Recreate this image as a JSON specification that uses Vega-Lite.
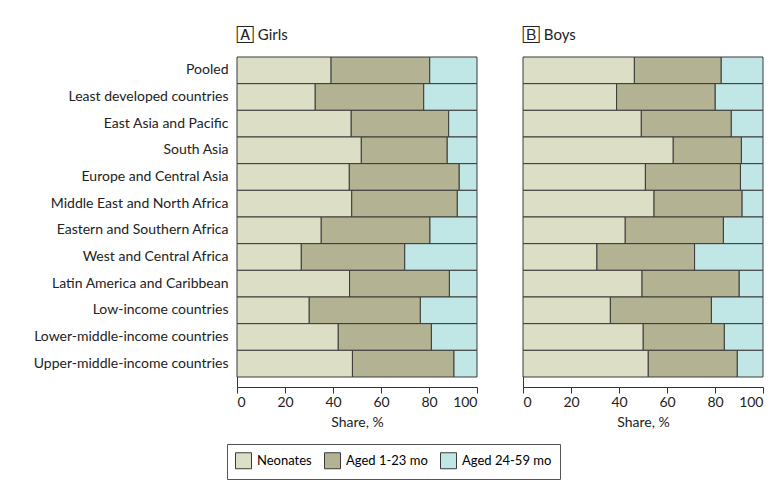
{
  "$schema": "https://vega.github.io/schema/vega-lite/v6.json",
  "padding": {"left": 33, "top": 27, "right": 10, "bottom": 10},
  "background": "white",
  "config": {
    "font": "Lato",
    "view": {"stroke": null},
    "axis": {"domainColor": "#333", "tickColor": "#333", "labelColor": "#222", "titleColor": "#222", "labelFontSize": 14, "titleFontSize": 14, "titleFontWeight": "normal", "grid": false, "labelLimit": 400},
    "title": {"fontWeight": "normal", "fontSize": 15, "anchor": "start", "frame": "group", "color": "#222", "offset": 14}
  },
  "datasets": {
    "shares": [
      {"sex": "Girls", "group": "Pooled", "age": "Neonates", "ord": 1, "share": 39.2},
      {"sex": "Girls", "group": "Pooled", "age": "Aged 1-23 mo", "ord": 2, "share": 41.1},
      {"sex": "Girls", "group": "Pooled", "age": "Aged 24-59 mo", "ord": 3, "share": 19.7},
      {"sex": "Girls", "group": "Least developed countries", "age": "Neonates", "ord": 1, "share": 32.6},
      {"sex": "Girls", "group": "Least developed countries", "age": "Aged 1-23 mo", "ord": 2, "share": 45.2},
      {"sex": "Girls", "group": "Least developed countries", "age": "Aged 24-59 mo", "ord": 3, "share": 22.2},
      {"sex": "Girls", "group": "East Asia and Pacific", "age": "Neonates", "ord": 1, "share": 47.6},
      {"sex": "Girls", "group": "East Asia and Pacific", "age": "Aged 1-23 mo", "ord": 2, "share": 40.6},
      {"sex": "Girls", "group": "East Asia and Pacific", "age": "Aged 24-59 mo", "ord": 3, "share": 11.8},
      {"sex": "Girls", "group": "South Asia", "age": "Neonates", "ord": 1, "share": 51.8},
      {"sex": "Girls", "group": "South Asia", "age": "Aged 1-23 mo", "ord": 2, "share": 35.8},
      {"sex": "Girls", "group": "South Asia", "age": "Aged 24-59 mo", "ord": 3, "share": 12.4},
      {"sex": "Girls", "group": "Europe and Central Asia", "age": "Neonates", "ord": 1, "share": 46.8},
      {"sex": "Girls", "group": "Europe and Central Asia", "age": "Aged 1-23 mo", "ord": 2, "share": 45.8},
      {"sex": "Girls", "group": "Europe and Central Asia", "age": "Aged 24-59 mo", "ord": 3, "share": 7.4},
      {"sex": "Girls", "group": "Middle East and North Africa", "age": "Neonates", "ord": 1, "share": 47.8},
      {"sex": "Girls", "group": "Middle East and North Africa", "age": "Aged 1-23 mo", "ord": 2, "share": 44.0},
      {"sex": "Girls", "group": "Middle East and North Africa", "age": "Aged 24-59 mo", "ord": 3, "share": 8.2},
      {"sex": "Girls", "group": "Eastern and Southern Africa", "age": "Neonates", "ord": 1, "share": 35.1},
      {"sex": "Girls", "group": "Eastern and Southern Africa", "age": "Aged 1-23 mo", "ord": 2, "share": 45.3},
      {"sex": "Girls", "group": "Eastern and Southern Africa", "age": "Aged 24-59 mo", "ord": 3, "share": 19.6},
      {"sex": "Girls", "group": "West and Central Africa", "age": "Neonates", "ord": 1, "share": 26.8},
      {"sex": "Girls", "group": "West and Central Africa", "age": "Aged 1-23 mo", "ord": 2, "share": 43.1},
      {"sex": "Girls", "group": "West and Central Africa", "age": "Aged 24-59 mo", "ord": 3, "share": 30.1},
      {"sex": "Girls", "group": "Latin America and Caribbean", "age": "Neonates", "ord": 1, "share": 46.9},
      {"sex": "Girls", "group": "Latin America and Caribbean", "age": "Aged 1-23 mo", "ord": 2, "share": 41.6},
      {"sex": "Girls", "group": "Latin America and Caribbean", "age": "Aged 24-59 mo", "ord": 3, "share": 11.5},
      {"sex": "Girls", "group": "Low-income countries", "age": "Neonates", "ord": 1, "share": 30.1},
      {"sex": "Girls", "group": "Low-income countries", "age": "Aged 1-23 mo", "ord": 2, "share": 46.3},
      {"sex": "Girls", "group": "Low-income countries", "age": "Aged 24-59 mo", "ord": 3, "share": 23.6},
      {"sex": "Girls", "group": "Lower-middle-income countries", "age": "Neonates", "ord": 1, "share": 42.2},
      {"sex": "Girls", "group": "Lower-middle-income countries", "age": "Aged 1-23 mo", "ord": 2, "share": 38.8},
      {"sex": "Girls", "group": "Lower-middle-income countries", "age": "Aged 24-59 mo", "ord": 3, "share": 19.0},
      {"sex": "Girls", "group": "Upper-middle-income countries", "age": "Neonates", "ord": 1, "share": 48.1},
      {"sex": "Girls", "group": "Upper-middle-income countries", "age": "Aged 1-23 mo", "ord": 2, "share": 42.3},
      {"sex": "Girls", "group": "Upper-middle-income countries", "age": "Aged 24-59 mo", "ord": 3, "share": 9.6},
      {"sex": "Boys", "group": "Pooled", "age": "Neonates", "ord": 1, "share": 46.4},
      {"sex": "Boys", "group": "Pooled", "age": "Aged 1-23 mo", "ord": 2, "share": 36.2},
      {"sex": "Boys", "group": "Pooled", "age": "Aged 24-59 mo", "ord": 3, "share": 17.4},
      {"sex": "Boys", "group": "Least developed countries", "age": "Neonates", "ord": 1, "share": 39.0},
      {"sex": "Boys", "group": "Least developed countries", "age": "Aged 1-23 mo", "ord": 2, "share": 41.1},
      {"sex": "Boys", "group": "Least developed countries", "age": "Aged 24-59 mo", "ord": 3, "share": 19.9},
      {"sex": "Boys", "group": "East Asia and Pacific", "age": "Neonates", "ord": 1, "share": 49.3},
      {"sex": "Boys", "group": "East Asia and Pacific", "age": "Aged 1-23 mo", "ord": 2, "share": 37.5},
      {"sex": "Boys", "group": "East Asia and Pacific", "age": "Aged 24-59 mo", "ord": 3, "share": 13.2},
      {"sex": "Boys", "group": "South Asia", "age": "Neonates", "ord": 1, "share": 62.6},
      {"sex": "Boys", "group": "South Asia", "age": "Aged 1-23 mo", "ord": 2, "share": 28.4},
      {"sex": "Boys", "group": "South Asia", "age": "Aged 24-59 mo", "ord": 3, "share": 9.0},
      {"sex": "Boys", "group": "Europe and Central Asia", "age": "Neonates", "ord": 1, "share": 51.0},
      {"sex": "Boys", "group": "Europe and Central Asia", "age": "Aged 1-23 mo", "ord": 2, "share": 39.6},
      {"sex": "Boys", "group": "Europe and Central Asia", "age": "Aged 24-59 mo", "ord": 3, "share": 9.4},
      {"sex": "Boys", "group": "Middle East and North Africa", "age": "Neonates", "ord": 1, "share": 54.6},
      {"sex": "Boys", "group": "Middle East and North Africa", "age": "Aged 1-23 mo", "ord": 2, "share": 36.7},
      {"sex": "Boys", "group": "Middle East and North Africa", "age": "Aged 24-59 mo", "ord": 3, "share": 8.7},
      {"sex": "Boys", "group": "Eastern and Southern Africa", "age": "Neonates", "ord": 1, "share": 42.6},
      {"sex": "Boys", "group": "Eastern and Southern Africa", "age": "Aged 1-23 mo", "ord": 2, "share": 40.9},
      {"sex": "Boys", "group": "Eastern and Southern Africa", "age": "Aged 24-59 mo", "ord": 3, "share": 16.5},
      {"sex": "Boys", "group": "West and Central Africa", "age": "Neonates", "ord": 1, "share": 30.8},
      {"sex": "Boys", "group": "West and Central Africa", "age": "Aged 1-23 mo", "ord": 2, "share": 40.7},
      {"sex": "Boys", "group": "West and Central Africa", "age": "Aged 24-59 mo", "ord": 3, "share": 28.5},
      {"sex": "Boys", "group": "Latin America and Caribbean", "age": "Neonates", "ord": 1, "share": 49.6},
      {"sex": "Boys", "group": "Latin America and Caribbean", "age": "Aged 1-23 mo", "ord": 2, "share": 40.5},
      {"sex": "Boys", "group": "Latin America and Caribbean", "age": "Aged 24-59 mo", "ord": 3, "share": 9.9},
      {"sex": "Boys", "group": "Low-income countries", "age": "Neonates", "ord": 1, "share": 36.4},
      {"sex": "Boys", "group": "Low-income countries", "age": "Aged 1-23 mo", "ord": 2, "share": 42.1},
      {"sex": "Boys", "group": "Low-income countries", "age": "Aged 24-59 mo", "ord": 3, "share": 21.5},
      {"sex": "Boys", "group": "Lower-middle-income countries", "age": "Neonates", "ord": 1, "share": 50.1},
      {"sex": "Boys", "group": "Lower-middle-income countries", "age": "Aged 1-23 mo", "ord": 2, "share": 33.8},
      {"sex": "Boys", "group": "Lower-middle-income countries", "age": "Aged 24-59 mo", "ord": 3, "share": 16.1},
      {"sex": "Boys", "group": "Upper-middle-income countries", "age": "Neonates", "ord": 1, "share": 52.2},
      {"sex": "Boys", "group": "Upper-middle-income countries", "age": "Aged 1-23 mo", "ord": 2, "share": 37.1},
      {"sex": "Boys", "group": "Upper-middle-income countries", "age": "Aged 24-59 mo", "ord": 3, "share": 10.7}
    ]
  },
  "spacing": 44,
  "hconcat": [
    {
      "width": 240,
      "height": 330,
      "title": {"text": "🄰 Girls"},
      "data": {"name": "shares"},
      "transform": [{"filter": "datum.sex === 'Girls'"}],
      "mark": {"type": "bar", "stroke": "#3a3a3a", "strokeWidth": 1},
      "encoding": {
        "y": {"field": "group", "type": "nominal", "sort": ["Pooled", "Least developed countries", "East Asia and Pacific", "South Asia", "Europe and Central Asia", "Middle East and North Africa", "Eastern and Southern Africa", "West and Central Africa", "Latin America and Caribbean", "Low-income countries", "Lower-middle-income countries", "Upper-middle-income countries"], "scale": {"paddingInner": 0, "paddingOuter": 0.1875, "align": 0}, "axis": {"title": null, "ticks": false, "labelPadding": 9}},
        "x": {"field": "share", "type": "quantitative", "stack": "zero", "scale": {"domain": [0, 100], "nice": false}, "axis": {"title": "Share, %", "values": [0, 20, 40, 60, 80, 100], "tickSize": 6, "titlePadding": 6}},
        "color": {"field": "age", "type": "nominal", "scale": {"domain": ["Neonates", "Aged 1-23 mo", "Aged 24-59 mo"], "range": ["#dcdec6", "#b3b393", "#c0e6e6"]}, "legend": {"title": null, "orient": "none", "legendX": -10, "legendY": 387, "direction": "horizontal", "strokeColor": "#555", "padding": 8, "symbolType": "square", "symbolSize": 256, "symbolStrokeColor": "#777", "symbolStrokeWidth": 1, "labelFontSize": 13, "labelOffset": 5, "columnPadding": 10}},
        "order": {"field": "ord", "type": "quantitative"}
      }
    },
    {
      "width": 240,
      "height": 330,
      "title": {"text": "🄱 Boys"},
      "data": {"name": "shares"},
      "transform": [{"filter": "datum.sex === 'Boys'"}],
      "mark": {"type": "bar", "stroke": "#3a3a3a", "strokeWidth": 1},
      "encoding": {
        "y": {"field": "group", "type": "nominal", "sort": ["Pooled", "Least developed countries", "East Asia and Pacific", "South Asia", "Europe and Central Asia", "Middle East and North Africa", "Eastern and Southern Africa", "West and Central Africa", "Latin America and Caribbean", "Low-income countries", "Lower-middle-income countries", "Upper-middle-income countries"], "scale": {"paddingInner": 0, "paddingOuter": 0.1875, "align": 0}, "axis": {"title": null, "ticks": false, "labels": false}},
        "x": {"field": "share", "type": "quantitative", "stack": "zero", "scale": {"domain": [0, 100], "nice": false}, "axis": {"title": "Share, %", "values": [0, 20, 40, 60, 80, 100], "tickSize": 6, "titlePadding": 6}},
        "color": {"field": "age", "type": "nominal", "scale": {"domain": ["Neonates", "Aged 1-23 mo", "Aged 24-59 mo"], "range": ["#dcdec6", "#b3b393", "#c0e6e6"]}, "legend": {"title": null, "orient": "none", "legendX": -10, "legendY": 387, "direction": "horizontal"}},
        "order": {"field": "ord", "type": "quantitative"}
      }
    }
  ]
}
